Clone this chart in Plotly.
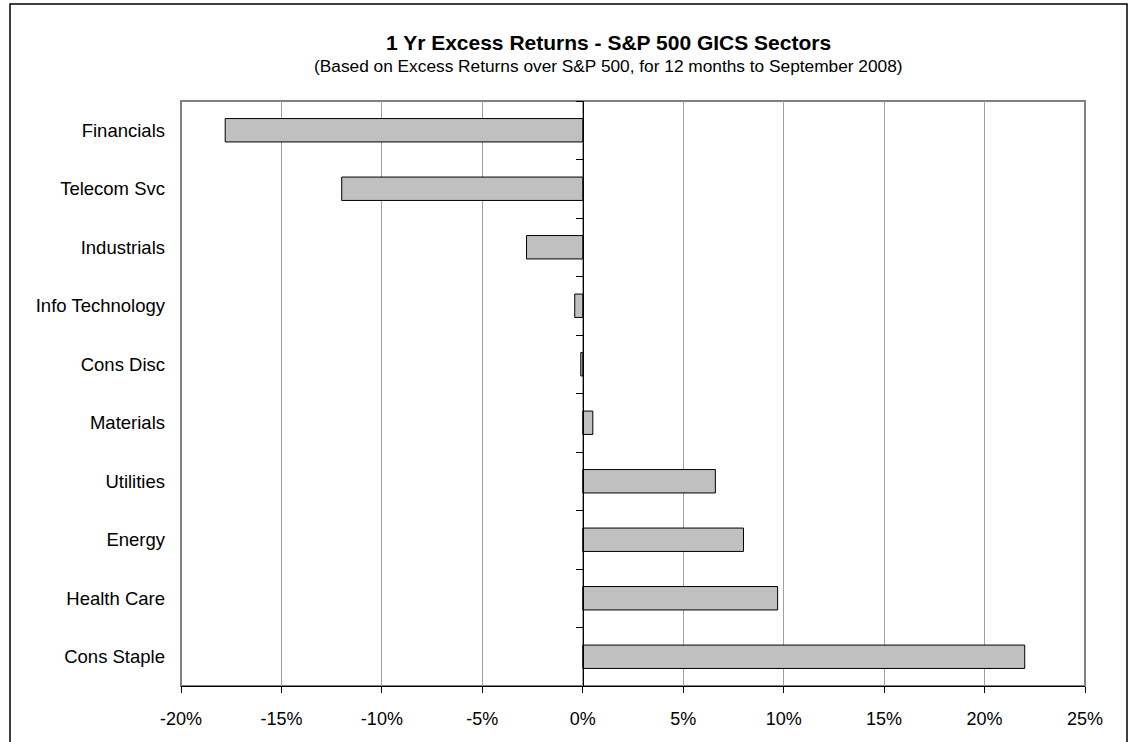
import plotly.graph_objects as go

sectors = ["Financials", "Telecom Svc", "Industrials", "Info Technology", "Cons Disc",
           "Materials", "Utilities", "Energy", "Health Care", "Cons Staple"]
excess_returns = [-17.8, -12.0, -2.8, -0.4, -0.1, 0.5, 6.6, 8.0, 9.7, 22.0]
x_ticks = [-20, -15, -10, -5, 0, 5, 10, 15, 20, 25]
x_tick_labels = ["-20%", "-15%", "-10%", "-5%", "0%", "5%", "10%", "15%", "20%", "25%"]

title_text = "1 Yr Excess Returns - S&P 500 GICS Sectors"
subtitle_text = "(Based on Excess Returns over S&P 500, for 12 months to September 2008)"

W, H = 1132, 742
L, R, T, B = 181, 47, 101, 56
xmin, xmax = -20, 25
font = "Liberation Sans, Arial, sans-serif"

fig = go.Figure()
fig.add_trace(go.Bar(
    y=sectors, x=excess_returns, orientation="h",
    marker=dict(color="#C0C0C0", line=dict(color="#000000", width=1)),
    hoverinfo="y+x", showlegend=False,
))
fig.add_trace(go.Scatter(
    y=sectors, x=[0] * len(sectors), yaxis="y2", mode="markers",
    marker=dict(opacity=0), hoverinfo="skip", showlegend=False,
))

cat_range = [len(sectors) - 0.5, -0.5]
fig.update_layout(
    width=W, height=H,
    margin=dict(l=L, r=R, t=T, b=B),
    paper_bgcolor="white", plot_bgcolor="white",
    bargap=0.6,
    font=dict(family=font, size=18, color="black"),
    xaxis=dict(
        range=[xmin, xmax], tickvals=x_ticks, ticktext=x_tick_labels,
        showgrid=True, gridcolor="#A0A0A0", gridwidth=1,
        zeroline=False,
        showline=True, linecolor="#000000", linewidth=1, mirror=False,
        ticks="outside", ticklen=6, tickcolor="#000000",
        ticklabelstandoff=10,
        tickfont=dict(size=18, family=font, color="black"),
        fixedrange=True,
    ),
    yaxis=dict(
        type="category", categoryorder="array", categoryarray=sectors,
        range=cat_range,
        showgrid=False, zeroline=False, showline=False,
        ticks="", ticklabelstandoff=15,
        tickfont=dict(size=18.5, family=font, color="black"),
        fixedrange=True,
    ),
    yaxis2=dict(
        type="category", categoryorder="array", categoryarray=sectors,
        range=cat_range, overlaying="y", anchor="free",
        position=(0 - xmin) / (xmax - xmin),
        showgrid=False, zeroline=False, showline=True, linecolor="#000000", linewidth=1,
        ticks="outside", tickson="boundaries", ticklen=7, tickcolor="#000000",
        showticklabels=False, fixedrange=True,
    ),
    shapes=[
        dict(type="rect", xref="paper", yref="paper", x0=0, x1=1, y0=0, y1=1,
             line=dict(color="#808080", width=2), fillcolor="rgba(0,0,0,0)", layer="below"),
        dict(type="rect", xref="paper", yref="paper",
             x0=(10 - L) / (W - L - R), x1=(1127 - L) / (W - L - R),
             y0=(H - B - 760) / (H - T - B), y1=(H - B - 4) / (H - T - B),
             line=dict(color="#000000", width=1.5), fillcolor="rgba(0,0,0,0)"),
    ],
    annotations=[
        dict(text="<b>" + title_text + "</b>", xref="paper", yref="paper",
             x=(608 - L) / (W - L - R), y=(H - B - 43) / (H - T - B),
             xanchor="center", yanchor="middle", showarrow=False,
             font=dict(size=21, family=font, color="black")),
        dict(text=subtitle_text, xref="paper", yref="paper",
             x=(608 - L) / (W - L - R), y=(H - B - 66) / (H - T - B),
             xanchor="center", yanchor="middle", showarrow=False,
             font=dict(size=17.3, family=font, color="black")),
    ],
)

fig.write_html("out.html")
